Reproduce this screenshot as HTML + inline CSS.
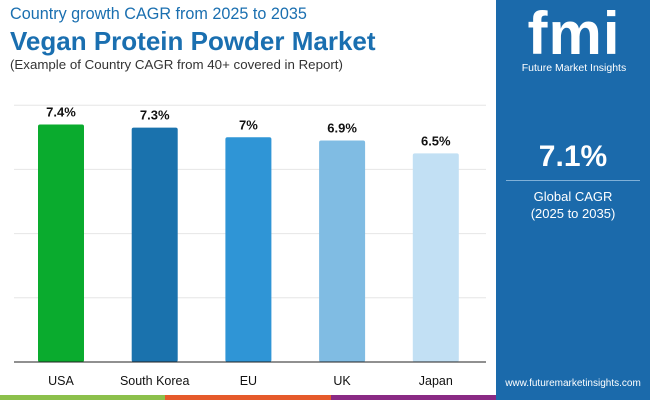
<!DOCTYPE html>
<html><head><meta charset="utf-8"><style>
body{margin:0;width:650px;height:400px;overflow:hidden;background:#fff;font-family:"Liberation Sans",Arial,sans-serif;position:relative}
.t1{position:absolute;left:10px;top:5px;font-size:16.2px;color:#1a6fb0}
.t2{position:absolute;left:10px;top:26px;font-size:26px;font-weight:bold;color:#1a6fb0}
.t3{position:absolute;left:10px;top:57px;font-size:13.3px;color:#333}
.panel{position:absolute;left:496px;top:0;width:154px;height:400px;background:#1b6aab}
</style></head><body>
<div class="t1">Country growth CAGR from 2025 to 2035</div>
<div class="t2">Vegan Protein Powder Market</div>
<div class="t3">(Example of Country CAGR from 40+ covered in Report)</div>
<svg id="chart" width="496" height="400" style="position:absolute;left:0;top:0"></svg>
<div class="panel">
 <div style="position:absolute;left:18px;top:6px;width:120px;text-align:center;color:#fff">
  <div style="font-size:60px;font-weight:bold;line-height:56px;letter-spacing:1px">fmi</div>
  <div style="font-size:10.5px">Future Market Insights</div>
 </div>
 <div style="position:absolute;left:0;width:154px;top:140px;text-align:center;color:#fff;font-size:30px;font-weight:bold">7.1%</div>
 <div style="position:absolute;left:10px;width:134px;top:180px;border-top:1px solid #7fb0d8"></div>
 <div style="position:absolute;left:0;width:154px;top:188px;text-align:center;color:#fff;font-size:13px;line-height:17px">Global CAGR<br>(2025 to 2035)</div>
 <div style="position:absolute;left:0;width:154px;top:378px;text-align:center;color:#fff;font-size:10px">www.futuremarketinsights.com</div>
</div>
<div style="position:absolute;left:0;top:395px;width:165px;height:5px;background:#8cc04b"></div>
<div style="position:absolute;left:165px;top:395px;width:166px;height:5px;background:#e65a2b"></div>
<div style="position:absolute;left:331px;top:395px;width:165px;height:5px;background:#8a2a84"></div>
<script>
const categories=["USA","South Korea","EU","UK","Japan"];
const values=[7.4,7.3,7.0,6.9,6.5];
const labels=["7.4%","7.3%","7%","6.9%","6.5%"];
const colors=["#0aab2e","#1a72ad","#2f95d6","#80bce3","#c2e0f4"];
const gridTicks=[2,4,6,8];
const svg=document.getElementById('chart');const NS="http://www.w3.org/2000/svg";
const y0=362,k=32.1;
const y=v=>y0-v*k;
const x=i=>38+i*93.7;
function mk(t,a){const e=document.createElementNS(NS,t);for(const n in a)e.setAttribute(n,a[n]);svg.appendChild(e);return e;}
gridTicks.forEach(g=>{const l=mk('line',{x1:14,x2:486,y1:y(g),y2:y(g),stroke:'#e6e6e6','stroke-width':1});

});
categories.forEach((c,i)=>{
const r=mk('rect',{x:x(i),y:y(values[i]),width:46,height:values[i]*k,rx:2,fill:colors[i]});


const t=mk('text',{x:x(i)+23,y:y(values[i])-8,'text-anchor':'middle','font-size':13,'font-weight':'bold',fill:'#111'});t.textContent=labels[i];


const c2=mk('text',{x:x(i)+23,y:y0+23,'text-anchor':'middle','font-size':12.5,fill:'#111'});c2.textContent=c;


});
const ax=mk('line',{x1:14,x2:486,y1:y0,y2:y0,stroke:'#222','stroke-width':1});


</script>
</body></html>
